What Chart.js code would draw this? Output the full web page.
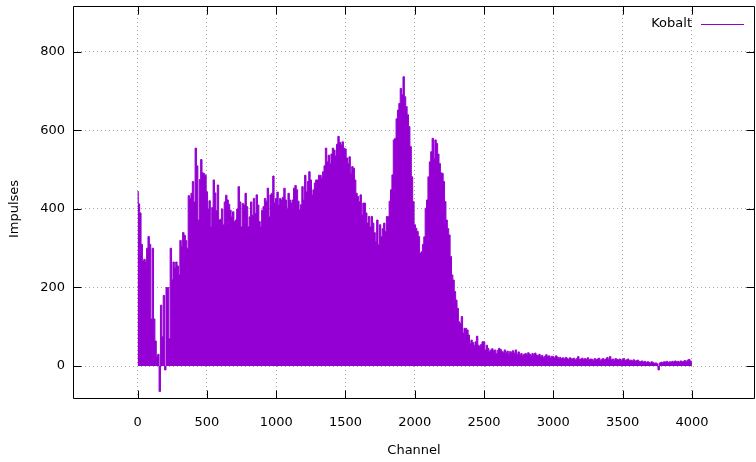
<!DOCTYPE html>
<html>
<head>
<meta charset="utf-8">
<script src="https://cdn.jsdelivr.net/npm/chart.js@4/dist/chart.umd.min.js"></script>
<style>
html,body{margin:0;padding:0;background:#fff;}
#c{display:block;}
</style>
</head>
<body>
<canvas id="c" width="756" height="462"></canvas>
<script>
const seriesName = 'Kobalt';
const xTitle = 'Channel';
const yTitle = 'Impulses';
const xTickValues = [0, 500, 1000, 1500, 2000, 2500, 3000, 3500, 4000];
const yTickValues = [0, 200, 400, 600, 800];
const channelStart = 0;
const channelStep = 10;
// impulses per channel, sampled every 10 channels (0 ... 4000)
const impulses = [
  445, 413, 390, 310, 268, 272, 265, 300, 330, 310,
  120, 300, 120, 64, 25, 30, -65, 155, 75, 180,
  -10, 200, 200, 70, 300, 220, 265, 250, 265, 255,
  232, 320, 305, 340, 333, 320, 300, 434, 427, 440,
  470, 418, 555, 510, 372, 475, 526, 492, 490, 486,
  444, 400, 421, 355, 404, 474, 441, 396, 461, 372,
  374, 400, 360, 418, 435, 423, 412, 397, 380, 393,
  368, 372, 400, 457, 418, 355, 414, 410, 440, 406,
  355, 380, 418, 384, 427, 389, 436, 410, 368, 355,
  397, 406, 427, 420, 453, 380, 436, 440, 484, 416,
  427, 443, 410, 427, 423, 430, 453, 423, 402, 440,
  423, 415, 423, 453, 460, 449, 420, 398, 411, 457,
  423, 486, 444, 470, 495, 474, 436, 449, 466, 474,
  474, 486, 486, 478, 495, 510, 555, 520, 537, 516,
  540, 555, 550, 535, 565, 585, 570, 563, 571, 555,
  553, 530, 516, 533, 491, 508, 504, 474, 440, 432,
  419, 436, 385, 415, 415, 390, 364, 381, 355, 381,
  364, 340, 317, 372, 309, 360, 330, 350, 364, 343,
  381, 381, 420, 449, 487, 576, 580, 630, 652, 669,
  707, 691, 737, 686, 661, 640, 610, 559, 482, 419,
  360, 351, 343, 330, 287, 291, 310, 329, 402, 423,
  482, 520, 546, 580, 529, 576, 567, 540, 516, 492,
  491, 470, 419, 372, 350, 334, 279, 232, 219, 190,
  168, 147, 113, 109, 126, 84, 96, 96, 92, 79,
  58, 66, 60, 53, 62, 76, 53, 49, 55, 62,
  62, 41, 53, 45, 37, 41, 44, 38, 41, 32,
  40, 45, 42, 37, 35, 41, 34, 38, 30, 37,
  35, 39, 33, 41, 30, 36, 28, 32, 26, 30,
  32, 28, 34, 30, 27, 32, 29, 33, 28, 26,
  30, 24, 27, 22, 25, 29, 24, 26, 22, 25,
  24, 21, 26, 23, 20, 22, 19, 21, 18, 22,
  20, 17, 21, 19, 18, 20, 16, 19, 24, 17,
  18, 20, 16, 19, 17, 21, 16, 18, 17, 15,
  19, 16, 18, 20, 15, 17, 19, 16, 18, 22,
  17, 24, 16, 18, 15, 19, 17, 16, 18, 15,
  17, 19, 14, 16, 18, 14, 15, 13, 16, 12,
  14, 15, 12, 11, 13, 10, 12, 9, 11, 10,
  8, 11, 9, 7, 8, 6, -10, 8, 10, 9,
  11, 10, 12, 9, 11, 10, 12, 10, 13, 11,
  12, 10, 13, 11, 12, 14, 11, 15, 17, 13,
  8
];
const channels = impulses.map((_, i) => channelStart + i * channelStep);

const FONT = {family: '"DejaVu Sans", sans-serif', size: 13};
const FONT_CSS = '13px "DejaVu Sans", sans-serif';
const COLOR = '#9400D3';

const framePlugin = {
  id: 'frame',
  afterDraw(chart) {
    const {ctx, chartArea: a, scales: {x, y}} = chart;
    ctx.save();
    ctx.strokeStyle = '#000';
    ctx.lineWidth = 1;
    const L = a.left + 0.5, R = a.right - 0.5, T = a.top + 0.5, B = a.bottom - 0.5;
    const tl = 8;
    ctx.beginPath();
    ctx.rect(L, T, R - L, B - T);
    xTickValues.forEach(v => {
      const px = Math.round(x.getPixelForValue(v)) + 0.5;
      ctx.moveTo(px, B); ctx.lineTo(px, B - tl);
      ctx.moveTo(px, T); ctx.lineTo(px, T + tl);
    });
    yTickValues.forEach(v => {
      const py = Math.round(y.getPixelForValue(v)) + 0.5;
      ctx.moveTo(L, py); ctx.lineTo(L + tl, py);
      ctx.moveTo(R, py); ctx.lineTo(R - tl, py);
    });
    ctx.stroke();
    // key
    const ky = a.top + 18;
    ctx.font = FONT_CSS;
    ctx.fillStyle = '#000';
    ctx.textAlign = 'right';
    ctx.textBaseline = 'middle';
    ctx.fillText(chart.data.datasets[0].label, a.right - 63, ky);
    ctx.strokeStyle = COLOR;
    ctx.lineWidth = 1;
    ctx.beginPath();
    ctx.moveTo(a.right - 54, ky + 0.5);
    ctx.lineTo(a.right - 11, ky + 0.5);
    ctx.stroke();
    // y axis title
    ctx.save();
    ctx.translate(15, 209);
    ctx.rotate(-Math.PI / 2);
    ctx.textAlign = 'center';
    ctx.textBaseline = 'middle';
    ctx.fillStyle = '#000';
    ctx.fillText(yTitle, 0, 0);
    ctx.restore();
    ctx.restore();
  }
};

new Chart(document.getElementById('c'), {
  type: 'line',
  data: {
    datasets: [{
      label: seriesName,
      data: channels.map((c, i) => ({x: c, y: impulses[i]})),
      borderColor: COLOR,
      backgroundColor: COLOR,
      borderWidth: 1,
      pointRadius: 0,
      stepped: 'middle',
      fill: 'origin'
    }]
  },
  options: {
    responsive: false,
    animation: false,
    devicePixelRatio: 1,
    layout: {padding: {top: 6, right: 1, left: 0, bottom: 0}},
    plugins: {legend: {display: false}, tooltip: {enabled: false}},
    scales: {
      x: {
        type: 'linear',
        min: -466,
        max: 4455,
        offset: false,
        afterBuildTicks: s => { s.ticks = xTickValues.map(v => ({value: v})); },
        afterFit: s => { s.height = 63; s.paddingLeft = 0; s.paddingRight = 0; },
        grid: {color: '#a8a8a8', lineWidth: 1, drawTicks: false, offset: false},
        border: {display: false, dash: [1, 3]},
        ticks: {color: '#000', font: FONT, padding: 16, maxRotation: 0, autoSkip: false,
                callback: v => String(v)},
        title: {display: true, text: xTitle, color: '#000', font: FONT, padding: {top: 0, bottom: 4}}
      },
      y: {
        type: 'linear',
        min: -84,
        max: 917,
        afterBuildTicks: s => { s.ticks = yTickValues.map(v => ({value: v})); },
        afterFit: s => { s.width = 73; s.paddingTop = 0; s.paddingBottom = 0; },
        grid: {color: '#a8a8a8', lineWidth: 1, drawTicks: false},
        border: {display: false, dash: [1, 3]},
        ticks: {color: '#000', font: FONT, padding: 8, callback: v => String(v)},
        title: {display: false, text: yTitle}
      }
    }
  },
  plugins: [framePlugin]
});
</script>
</body>
</html>
